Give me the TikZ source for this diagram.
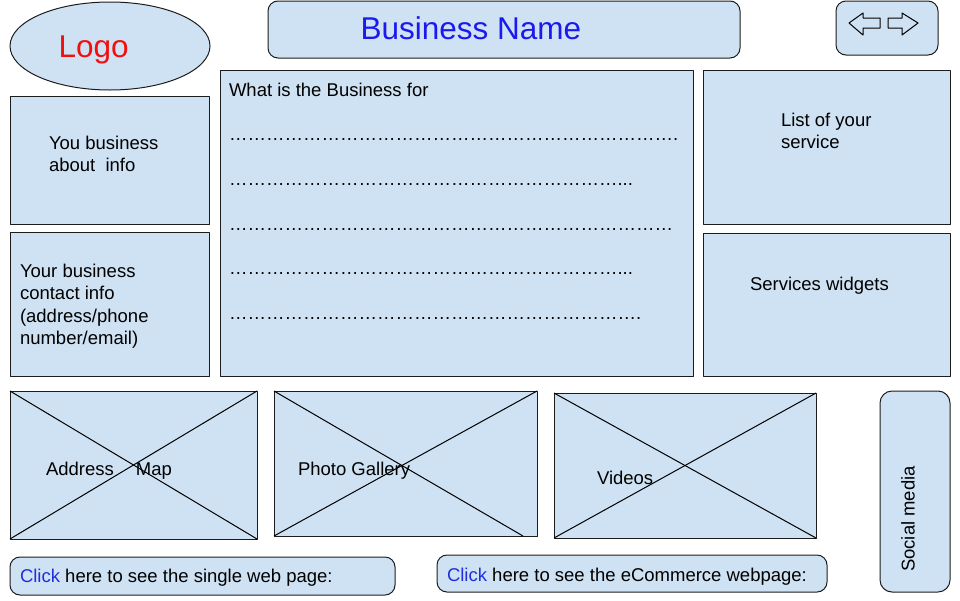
\documentclass[tikz,border=0pt]{standalone}
\usepackage{fontspec}
\setmainfont{Liberation Sans}
\usetikzlibrary{shapes.geometric}
\definecolor{boxfill}{HTML}{CFE2F3}
\definecolor{boxline}{HTML}{1C1C1C}
\definecolor{namecol}{HTML}{1A1AF0}
\definecolor{clickcol}{HTML}{1F2FE0}
\definecolor{logocol}{HTML}{F01010}
\newcommand{\dotrun}[1]{\foreach \k in {1,...,#1}{\char"2026}}%

\begin{document}
\begin{tikzpicture}[x=1pt, y=-1pt, line width=1.0pt, line join=round,
  box/.style={draw=boxline, fill=boxfill, rectangle, anchor=north west, inner sep=0pt, outer sep=0pt},
  rbox/.style={box, rounded corners=10},
  txt/.style={inner sep=0pt, outer sep=0pt, align=left, font=\fontsize{18.5}{22.3}\selectfont},
  big/.style={inner sep=0pt, anchor=base west, font=\fontsize{31.5}{37.0}\selectfont}]

  %% ════ header row ════
  \node[draw=boxline, fill=boxfill, ellipse, inner sep=0pt, minimum width=200, minimum height=88] (logo) at (110,46) {};
  \node[rbox, minimum width=472, minimum height=57] (title) at (268,1) {};
  \node[rbox, minimum width=102, minimum height=54] (nav) at (836,1) {};

  %% nav arrows
  \draw[fill=boxfill] (849,23) -- (863,13) -- (863,18) -- (880,18) -- (880,28) -- (863,28) -- (863,35) -- cycle;
  \draw[fill=boxfill] (918,23) -- (902,13) -- (902,18) -- (888,18) -- (888,28) -- (902,28) -- (902,35) -- cycle;

  %% ════ middle row ════
  \node[box, minimum width=199, minimum height=128] (about) at (10,96) {};
  \node[box, minimum width=199, minimum height=144] (contact) at (10,232) {};
  \node[box, minimum width=473, minimum height=306] (purpose) at (220,70) {};
  \node[box, minimum width=247, minimum height=154] (service) at (703,70) {};
  \node[box, minimum width=247, minimum height=143] (widgets) at (703,233) {};

  %% ════ media row (crossed placeholders) ════
  \node[box, minimum width=247, minimum height=148] (map) at (10,391) {};
  \node[box, minimum width=263, minimum height=145] (gallery) at (274,391) {};
  \node[box, minimum width=262, minimum height=145] (videos) at (554,393) {};
  \coordinate (galleryend) at (523,536);

  \draw (map.north west) -- (map.south east);
  \draw (map.south west) -- (map.north east);
  \draw (gallery.north west) -- (galleryend);
  \draw (gallery.south west) -- (gallery.north east);
  \draw (videos.north west) -- (videos.south east);
  \draw (videos.south west) -- (videos.north east);

  \node[box, rounded corners=12, minimum width=70, minimum height=201] (social) at (880,391) {};

  %% ════ link bars ════
  \node[rbox, minimum width=385, minimum height=38] (single) at (10,557) {};
  \node[rbox, minimum width=390, minimum height=37] (shop) at (437,555) {};

  %% ════ labels ════
  \node[big, text=logocol] (logotext) at (58,57) {Logo};
  \node[big, text=namecol] (titletext) at (360,39.5) {Business Name};

  \node[txt, anchor=north west] (abouttext) at (49,136) {You business\\about\ \ info};
  \node[txt, anchor=north west] (contacttext) at (20,264) {Your business\\contact info\\(address/phone\\number/email)};
  \node[txt, anchor=north west] (purposetext) at (229,83) {What is the Business for};
  \node[txt, anchor=base west] (row1) at (229,140) {\dotrun{24}.};
  \node[txt, anchor=base west] (row2) at (229,185) {\dotrun{21}...};
  \node[txt, anchor=base west] (row3) at (229,230) {\dotrun{24}};
  \node[txt, anchor=base west] (row4) at (229,274) {\dotrun{21}...};
  \node[txt, anchor=base west] (row5) at (229,319) {\dotrun{22}.};
  \node[txt, anchor=north west] (servicetext) at (781,113) {List of your\\service};
  \node[txt, anchor=base west] (widgetstext) at (750,290.5) {Services widgets};

  \node[txt, anchor=base west] (maptext) at (46,475.5) {Address\hspace{22pt}Map};
  \node[txt, anchor=base west] (gallerytext) at (298,475.5) {Photo Gallery};
  \node[txt, anchor=base west] (videostext) at (597,484.5) {Videos};
  \node[txt, rotate=90] (socialtext) at (908,519) {Social media};

  \node[txt, anchor=base west] (singletext) at (20,582.5) {\textcolor{clickcol}{Click} here to see the single web page:};
  \node[txt, anchor=base west] (shoptext) at (447,581.5) {\textcolor{clickcol}{Click} here to see the eCommerce webpage:};

  % fixed canvas
  \pgfresetboundingbox
  \path[use as bounding box] (0,0) rectangle (960,600);
\end{tikzpicture}
\end{document}
